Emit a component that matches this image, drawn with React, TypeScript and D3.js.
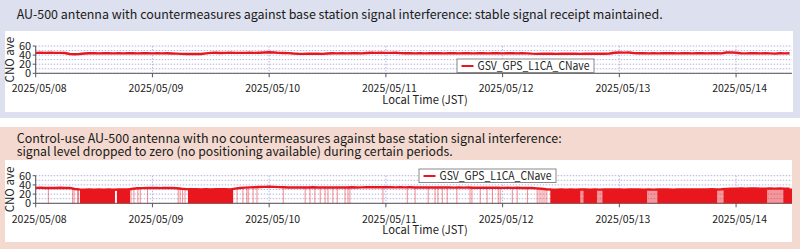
import React from "react";
import * as d3 from "d3";

// ---------- data ----------
const dayLabels = ["2025/05/08", "2025/05/09", "2025/05/10", "2025/05/11", "2025/05/12", "2025/05/13", "2025/05/14"];
const yTicks = [0, 20, 40, 60];
const yGrid = [0, 10, 20, 30, 40, 50, 60];
const seriesName = "GSV_GPS_L1CA_CNave";
const endHour = 155.5;

const topTitle = "AU-500 antenna with countermeasures against base station signal interference: stable signal receipt maintained.";
const bottomTitle1 = "Control-use AU-500 antenna with no countermeasures against base station signal interference:";
const bottomTitle2 = "signal level dropped to zero (no positioning available) during certain periods.";

// hourly CNO ave, antenna with countermeasures (hour 0 = 2025/05/08 00:00 JST)
const withCountermeasures = [
  45, 45.2, 44.8, 45.1, 44.9, 45, 44.6, 42.5, 42, 42.3, 43.6, 44,
  44.2, 43.8, 44, 44.3, 43.9, 44.1, 43.7, 44.2, 44, 43.8, 44.3, 44,
  43.9, 44.2, 43.8, 44, 43.6, 43.2, 42.6, 42.3, 42.5, 42.8, 42.4, 43.8,
  44.8, 45.1, 44.7, 45, 45.2, 44.8, 45, 44.9, 45.3, 44.8, 45.1, 45.6,
  46.2, 45.8, 44.8, 44.5, 44.3, 43.5, 43, 42.8, 43.2, 42.9, 43.1, 42.8,
  43.4, 44, 43.8, 44.2, 43.9, 44.1, 44.3, 43.8, 44.7, 45.2, 44.9, 45.1,
  45, 44.8, 45.2, 44.3, 44, 44.2, 43.9, 44.1, 43.8, 44.3, 44, 44.2,
  43.9, 44.1, 44.3, 43.8, 44, 44.2, 43.9, 44.1, 44.3, 43.9, 44, 44.2,
  43.8, 44.1, 44, 43.7, 44.2, 43.9, 43.2, 42.8, 43.1, 42.9, 43.2, 42.8,
  43, 43.3, 42.9, 43.1, 42.8, 43.2, 43, 42.9, 43.3, 43.1, 43.4, 45.2,
  45.6, 45.4, 45.7, 44.4, 44, 44.2, 43.9, 44.1, 43.8, 44.3, 44, 44.1,
  43.9, 44.2, 44, 43.8, 44.1, 44.3, 43.9, 44, 44.2, 43.8, 45.8, 46.1,
  45.2, 44.1, 43.9, 44.2, 44, 43.8, 44.3, 43.9, 43.2, 44.1, 43.9, 44,
];

// hourly CNO ave (upper level), control antenna without countermeasures
const withoutCountermeasures = [
  33.5, 33.8, 33.2, 33.6, 33.4, 33.9, 33.3, 33.5, 31, 30.2, 29.8, 30.1,
  29.6, 30, 29.8, 30.2, 29.5, 29.9, 30.3, 30, 31.5, 32.6, 33, 33.4,
  33.2, 33.6, 33.1, 33.5, 33.3, 32.8, 31.5, 30.8, 30.4, 30.6, 30.2, 30.5,
  30.3, 30.7, 30.4, 30.6, 30.2, 31.8, 33.2, 34, 34.6, 35, 35.4, 35.8,
  36, 35.6, 35.2, 34.8, 34.5, 34.7, 34.3, 34.6, 34.4, 34.8, 34.5, 34.2,
  34.6, 34.4, 34.7, 34.3, 34.5, 34.8, 34.4, 34.6, 34.9, 35.2, 35, 34.8,
  34.9, 35.1, 34.7, 34.9, 34.6, 34.8, 34.5, 34.7, 34.4, 34.6, 34.3, 34.5,
  34.2, 34.4, 34.1, 34.3, 34, 34.2, 33.9, 34.1, 33.8, 34, 33.7, 33.9,
  33.6, 33.8, 33.5, 33.7, 33.4, 33.6, 33.2, 32.5, 31.5, 30.5, 30, 29.8,
  30.1, 29.7, 30, 29.6, 29.9, 30.2, 29.8, 30, 29.7, 30.1, 29.9, 30.3,
  30, 29.8, 30.2, 29.9, 30.1, 29.7, 30, 29.8, 30.2, 29.9, 30.1, 29.8,
  30, 30.2, 29.9, 30.1, 30.3, 30, 30.2, 30.4, 30.1, 30.5, 31.2, 31.8,
  32, 32.2, 31.9, 32.1, 32.3, 32, 31.8, 32.1, 31.9, 32.2, 32, 31.8,
];

// periods (hours) where the signal repeatedly dropped to zero (dense)
const denseDropoutSpans: [number, number][] = [
  [9.1, 16.3], [16.7, 19.4], [31.3, 40.6], [105.8, 112.0], [112.6, 115.4],
  [116.5, 125.7], [127.8, 140.1], [141.4, 150.4], [153.7, 155.5],
];
// periods with somewhat less frequent drops
const partialDropoutSpans: [number, number][] = [
  [112.0, 112.6], [115.4, 116.5], [125.7, 127.8], [140.1, 141.4], [150.4, 153.7],
];
// isolated drops to zero (hours)
const dropoutHours = [
  2.6, 7.6, 7.9, 8.6, 8.8, 19.6, 20.2, 21, 21.5, 23, 29.3, 29.7, 30.2, 30.7,
  41.4, 42.6, 43.4, 43.7, 44.7, 45.5, 50.9, 55.4, 56.4, 57.4, 58.5, 59.5, 60.1,
  61.1, 62, 63.6, 64.2, 64.6, 71.4, 76.4, 78, 80.7, 82.1, 82.7, 83.6, 84.6, 86.6,
  89.3, 89.7, 91.4, 92.8, 93.9, 95.1, 95.5, 98, 99, 101.1, 103.1, 103.5, 103.9,
  104.3, 104.7, 105.1,
];

// ---------- layout ----------
const W = 800;
const H = 249;
const RED = "#e8171e";
const FONT = "'Noto Sans CJK JP', 'Noto Sans', sans-serif";
const start = new Date(2025, 4, 8, 0, 0, 0);
const hourToDate = (h: number) => new Date(start.getTime() + h * 3600 * 1000);
const x = d3.scaleTime().domain([start, hourToDate(endHour)]).range([35.7, 792]);

function levelAt(arr: number[], h: number) {
  const i = Math.max(0, Math.min(arr.length - 2, Math.floor(h)));
  const t = Math.max(0, Math.min(1, h - i));
  return arr[i] * (1 - t) + arr[i + 1] * t;
}

function Axes({ y, labelY, axisLabelY }: { y: d3.ScaleLinear<number, number>; labelY: number; axisLabelY: number }) {
  const days = dayLabels.map((_, i) => hourToDate(i * 24));
  const [r0, r1] = x.range();
  return (
    <g>
      {yGrid.map((v) => (
        <line key={"g" + v} x1={r0} x2={r1} y1={y(v)} y2={y(v)} stroke="#b4b4e4" strokeWidth={1} strokeDasharray="1.5,1.5" />
      ))}
      {days.map((d, i) => (
        <line key={"v" + i} x1={x(d)} x2={x(d)} y1={y(60)} y2={y(0)} stroke="#b4b4e4" strokeWidth={1} strokeDasharray="1.5,1.5" />
      ))}
      <line x1={r0} x2={r1} y1={y(0)} y2={y(0)} stroke="#555" strokeWidth={1} />
      <line x1={r0} x2={r0} y1={y(60)} y2={y(0)} stroke="#555" strokeWidth={1} />
      {yTicks.map((v) => (
        <g key={"t" + v}>
          <line x1={r0 - 3} x2={r0} y1={y(v)} y2={y(v)} stroke="#555" />
          <text x={r0 - 4.5} y={y(v)} dy="0.35em" textAnchor="end" fontSize={11} fill="#222" fontFamily={FONT}>
            {v}
          </text>
        </g>
      ))}
      {days.map((d, i) => (
        <g key={"x" + i}>
          <line x1={x(d)} x2={x(d)} y1={y(0)} y2={y(0) + 4} stroke="#555" />
          <text x={x(d) + 3.5} y={labelY} textAnchor="middle" fontSize={10.5} fill="#222" fontFamily={FONT}>
            {dayLabels[i]}
          </text>
        </g>
      ))}
      <text x={425} y={axisLabelY} textAnchor="middle" fontSize={11.2} fill="#222" fontFamily={FONT}>
        Local Time (JST)
      </text>
      <text transform={`translate(14,${(y(60) + y(0)) / 2}) rotate(-90)`} textAnchor="middle" fontSize={11.5} fill="#222" fontFamily={FONT}>
        CNO ave
      </text>
    </g>
  );
}

function Legend({ lx, ly }: { lx: number; ly: number }) {
  return (
    <g>
      <rect x={lx} y={ly} width={137} height={13.5} fill="#fff" stroke="#8a8a8a" strokeWidth={1} />
      <line x1={lx + 4.5} x2={lx + 16.5} y1={ly + 7} y2={ly + 7} stroke={RED} strokeWidth={2} />
      <text x={lx + 20.5} y={ly + 7} dy="0.36em" fontSize={11.2} fill="#222" fontFamily={FONT} textLength={112} lengthAdjust="spacingAndGlyphs">
        {seriesName}
      </text>
    </g>
  );
}

export default function App() {
  React.useEffect(() => {
    document.body.style.margin = "0";
  }, []);

  const yTop = d3.scaleLinear().domain([0, 60]).range([73.3, 46]);
  const yBot = d3.scaleLinear().domain([0, 60]).range([203.3, 175.7]);

  const topLine = d3
    .line<number>()
    .x((_, i) => x(hourToDate(Math.min(i, endHour))))
    .y((v) => yTop(v))(withCountermeasures) as string;

  const botLine = d3
    .line<number>()
    .x((_, i) => x(hourToDate(Math.min(i, endHour))))
    .y((v) => yBot(v))(withoutCountermeasures) as string;

  const spanPath = (s: number, e: number) => {
    const hs = [s];
    for (let h = Math.ceil(s); h < e; h++) hs.push(h);
    hs.push(e);
    return d3
      .area<number>()
      .x((h) => x(hourToDate(h)))
      .y0(yBot(0))
      .y1((h) => yBot(levelAt(withoutCountermeasures, h) + 0.6))(hs) as string;
  };

  return (
    <svg width={W} height={H} style={{ display: "block" }} xmlns="http://www.w3.org/2000/svg">
      <rect x={0} y={0} width={W} height={H} fill="#fff" />
      {/* top panel */}
      <rect x={0} y={0} width={W} height={118} fill="#dde0ee" />
      <rect x={5} y={31} width={788} height={81} fill="#fff" />
      <text x={16.7} y={19} fontSize={12.5} fill="#1a1a1a" fontFamily={FONT} textLength={646} lengthAdjust="spacingAndGlyphs">
        {topTitle}
      </text>
      <Axes y={yTop} labelY={92} axisLabelY={104} />
      <path d={topLine} fill="none" stroke={RED} strokeWidth={2.4} strokeLinejoin="round" />
      <Legend lx={457} ly={59} />

      {/* bottom panel */}
      <rect x={0} y={127} width={W} height={H - 127} fill="#f3d9cf" />
      <rect x={5} y={160} width={787} height={82} fill="#fff" />
      <text x={16.7} y={142.5} fontSize={12.5} fill="#1a1a1a" fontFamily={FONT} textLength={545} lengthAdjust="spacingAndGlyphs">
        {bottomTitle1}
      </text>
      <text x={16.7} y={155.5} fontSize={12.5} fill="#1a1a1a" fontFamily={FONT} textLength={436} lengthAdjust="spacingAndGlyphs">
        {bottomTitle2}
      </text>
      <Axes y={yBot} labelY={223} axisLabelY={234} />
      {partialDropoutSpans.map(([s, e], i) => (
        <path key={"p" + i} d={spanPath(s, e)} fill={RED} opacity={0.45} />
      ))}
      {denseDropoutSpans.map(([s, e], i) => (
        <path key={"d" + i} d={spanPath(s, e)} fill={RED} />
      ))}
      {dropoutHours.map((h, i) => (
        <line key={"o" + i} x1={x(hourToDate(h))} x2={x(hourToDate(h))} y1={yBot(levelAt(withoutCountermeasures, h))} y2={yBot(0)} stroke={RED} strokeWidth={1} opacity={0.5} />
      ))}
      <path d={botLine} fill="none" stroke={RED} strokeWidth={2.4} strokeLinejoin="round" />
      <Legend lx={419} ly={169} />
    </svg>
  );
}
